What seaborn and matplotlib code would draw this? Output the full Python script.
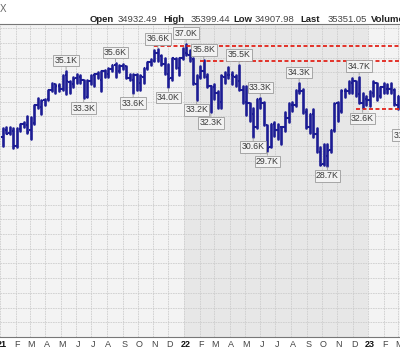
import matplotlib
matplotlib.use('Agg')
import matplotlib.pyplot as plt
import pandas as pd
import numpy as np
import seaborn as sns

# weekly DJIA bars, Jan 2021 - Mar 2023
opens = [30628, 31070, 30850, 31000, 30000, 31150, 31470, 31450, 31100, 31550, 32800, 32650, 33100,
         33200, 33800, 34200, 34050, 33900, 34800, 34350, 34200, 34600, 34700, 34450, 33300, 34400,
         34800, 34900, 34500, 35100, 34900, 35200, 35500, 35100, 35400, 35400, 34600, 34500, 34800,
         34300, 34700, 35300, 35700, 35800, 36300, 36100, 35600, 34900, 34600, 35900, 35300, 35950,
         36300, 36200, 35900, 34200, 34700, 35100, 34700, 34100, 34000, 33600, 33000, 34700, 34800,
         34800, 34700, 34400, 33800, 33000, 32900, 32200, 31300, 33200, 32900, 31400, 29900, 31500,
         31100, 31300, 31300, 31900, 32800, 32800, 33700, 33700, 32300, 31300, 32200, 30800, 29600,
         28800, 29300, 29700, 31100, 32900, 32400, 33700, 33700, 34300, 34400, 33500, 32900, 33200,
         33100, 33600, 34300, 33400, 34000, 33900, 33900, 33800, 32800, 33400, 31900]
highs = [31194, 31272, 31272, 31189, 31211, 31500, 31643, 32010, 31950, 32779, 33227, 33100, 33200,
         33800, 34256, 34200, 34200, 34811, 35091, 34400, 34700, 34900, 34849, 34500, 34500, 34800,
         34900, 35000, 35100, 35171, 35300, 35530, 35631, 35500, 35600, 35400, 34900, 34900, 34900,
         34800, 35300, 35700, 35900, 36500, 36565, 36200, 36000, 35600, 35970, 36000, 35950, 36679,
         36952, 36500, 36000, 34800, 35400, 35824, 34900, 34100, 34200, 33700, 34800, 35000, 35372,
         35000, 34800, 35492, 34100, 34100, 32900, 32600, 33200, 33272, 33000, 31400, 31500, 31600,
         31500, 31300, 32300, 32900, 33000, 33800, 34281, 33900, 32500, 32200, 32500, 31200, 29900,
         30100, 30100, 31100, 32900, 33000, 33800, 33900, 34400, 34600, 34400, 34712, 33600, 33400,
         33700, 34400, 34300, 34000, 34300, 34200, 34300, 33900, 33400, 33600, 32500]
lows = [30014, 30863, 30800, 29856, 29900, 31000, 31273, 30900, 30500, 31500, 32600, 32200, 32800,
        33100, 33700, 33600, 33700, 33800, 33500, 33600, 34000, 34300, 34300, 33271, 33300, 34200,
        34100, 34600, 33741, 34700, 34700, 35100, 34700, 35000, 35200, 34600, 34500, 33613, 33800,
        33785, 34300, 35200, 35500, 35800, 35800, 35500, 34900, 34006, 34500, 35300, 34800, 35900,
        36200, 35800, 34200, 33150, 34600, 34700, 34000, 32272, 33200, 32600, 32600, 34300, 34600,
        34200, 34100, 33800, 32900, 32100, 31700, 30635, 31200, 32600, 31400, 29653, 29900, 30700,
        30500, 30100, 31000, 31600, 32400, 32700, 33600, 32250, 31200, 30900, 30600, 29570, 28700,
        28700, 28660, 29600, 31000, 31700, 32300, 33300, 33600, 33600, 33400, 32900, 32573, 32800,
        32700, 33400, 33100, 33300, 33600, 33600, 33600, 32800, 32500, 31800, 31430]
closes = [31098, 30814, 30997, 29983, 31148, 31458, 31494, 30932, 31496, 32779, 32628, 33072, 33153,
          33800, 34200, 34043, 33875, 34778, 34382, 34208, 34529, 34756, 34480, 33290, 34433, 34786,
          34870, 34688, 35061, 34935, 35208, 35515, 35120, 35455, 35369, 34608, 34584, 34798, 34326,
          34746, 35295, 35677, 35820, 36328, 36100, 35602, 34899, 34580, 35971, 35365, 35950, 36338,
          36232, 35912, 34265, 34725, 35090, 34738, 34079, 34059, 33614, 32944, 34755, 34861, 34818,
          34721, 34451, 33811, 32977, 32899, 32197, 31262, 33213, 32900, 31393, 29888, 31501, 31097,
          31338, 31288, 31900, 32845, 32803, 33761, 33707, 32283, 31318, 32152, 30822, 29590, 28726,
          29297, 29635, 31083, 32861, 32403, 33748, 33746, 34347, 34430, 33476, 32920, 33204, 33147,
          33631, 34303, 33375, 33978, 33926, 33869, 33827, 32817, 33391, 31910, 31862]

# peak / trough labels: (week, text, which end of the bar)
label_weeks = ['2021-05-10', '2021-06-14', '2021-08-16', '2021-09-20', '2021-11-08', '2021-11-29',
               '2022-01-03', '2022-01-24', '2022-02-07', '2022-02-21', '2022-04-18', '2022-05-16',
               '2022-05-30', '2022-06-13', '2022-08-15', '2022-10-10', '2022-12-12', '2022-12-19',
               '2023-03-13']
label_text = ['35.1K', '33.3K', '35.6K', '33.6K', '36.6K', '34.0K', '37.0K', '33.2K', '35.8K', '32.3K',
              '35.5K', '30.6K', '33.3K', '29.7K', '34.3K', '28.7K', '34.7K', '32.6K', '31.4K']
label_kind = ['high', 'low', 'high', 'low', 'high', 'low', 'high', 'low', 'high', 'low',
              'high', 'low', 'high', 'low', 'high', 'low', 'high', 'low', 'low']

# red dashed resistance/support lines
line_levels = [36800, 35800, 32500]
line_starts = ['2021-11-02', '2022-02-01', '2022-12-07']

df = pd.DataFrame({'open': opens, 'high': highs, 'low': lows, 'close': closes})
df['week'] = pd.date_range('2021-01-04', periods=len(df), freq='7D')
df['date'] = df['week'] + pd.Timedelta(days=2)

navy = '#1c1c94'
sns.set_style('whitegrid')
plt.rcParams['font.family'] = ['Liberation Sans', 'DejaVu Sans']

fig = plt.figure(figsize=(4, 3.52), dpi=100)
fig.patch.set_facecolor('white')
ax = fig.add_axes([0, 15 / 352, 1, 313 / 352])
ax.set_facecolor('#f3f3f3')
ax.axvspan(pd.Timestamp('2022-01-01'), pd.Timestamp('2023-01-01'), color='#e7e7e7', zorder=0, lw=0)

# high-low bars through seaborn, one line per week
hl = df.melt(id_vars=['date'], value_vars=['high', 'low'], value_name='price')
sns.lineplot(data=hl, x='date', y='price', units='date', estimator=None, sort=False,
             color=navy, lw=1.9, ax=ax, legend=False)
tick = pd.Timedelta(days=3)
ax.hlines(df['open'], df['date'] - tick, df['date'], color=navy, lw=1.5)
ax.hlines(df['close'], df['date'], df['date'] + tick, color=navy, lw=1.5)

for lvl, st in zip(line_levels, line_starts):
    ax.hlines(lvl, pd.Timestamp(st), pd.Timestamp('2023-06-01'), color='#e2231a', lw=1.3,
              linestyles=(0, (2.2, 1.4)), zorder=4)

for wk, txt, kind in zip(label_weeks, label_text, label_kind):
    row = df[df['week'] == pd.Timestamp(wk)].iloc[0]
    y = row[kind]
    off = 7.5 if kind == 'high' else -7.5
    ax.annotate(txt, xy=(row['date'], y), xytext=(0, off), textcoords='offset points',
                ha='center', va='center', fontsize=6.3, color='#3a3a3a', zorder=6,
                annotation_clip=False,
                bbox=dict(boxstyle='square,pad=0.15', fc='#f2f2f2', ec='#9a9a9a', lw=0.6),
                arrowprops=dict(arrowstyle='-', color='#9a9a9a', lw=0.6, shrinkA=0, shrinkB=1))

ax.set_xlim(pd.Timestamp('2021-01-06'), pd.Timestamp('2023-03-05'))
ax.set_ylim(17000, 38290)

months = pd.date_range('2021-01-01', '2023-03-01', freq='MS')
ax.set_xticks(months)
ax.set_xticklabels([])
ax.set_xticks(months + pd.Timedelta(days=3), minor=True)
names = ['J', 'F', 'M', 'A', 'M', 'J', 'J', 'A', 'S', 'O', 'N', 'D']
ax.set_xticklabels([f'{m.year % 100}' if m.month == 1 else names[m.month - 1] for m in months],
                   minor=True, fontsize=6.5, color='#444444')
for t, m in zip(ax.get_xticklabels(minor=True), months):
    if m.month == 1:
        t.set_fontweight('bold')
        t.set_color('#111111')
ax.set_yticks(np.arange(17000, 39000, 1000))
ax.tick_params(axis='both', which='both', length=0, labelleft=False, pad=2.5)
ax.grid(True, which='major', color='#cdcdcd', lw=0.6, ls=(0, (2, 1)))
ax.set_axisbelow(True)
ax.set_xlabel('')
ax.set_ylabel('')

for s in ['left', 'right']:
    ax.spines[s].set_visible(False)
ax.spines['top'].set_color('#777777')
ax.spines['top'].set_linewidth(0.8)
ax.spines['bottom'].set_color('#777777')
ax.spines['bottom'].set_linewidth(0.8)
ax.spines['bottom'].set_linestyle((0, (1, 1)))

# header line (cut off at the top of the source image)
yh = 1 - 20 / 352
header = [(90, 'Open', 'bold'), (118, '34932.49', 'normal'), (163, 'High', 'bold'),
          (191, '35399.44', 'normal'), (233, 'Low', 'bold'), (255, '34907.98', 'normal'),
          (300, 'Last', 'bold'), (328, '35351.05', 'normal'), (371, 'Volume', 'bold')]
for xp, txt, w in header:
    fig.text(xp / 400, yh, txt, fontsize=6.8, fontweight=w, va='center', ha='left',
             color='#222222' if w == 'bold' else '#444444')
fig.text(0 / 400, 1 - 9 / 352, 'X', fontsize=7, va='center', ha='left', color='#666666')

fig.savefig('out.png', dpi=100)
